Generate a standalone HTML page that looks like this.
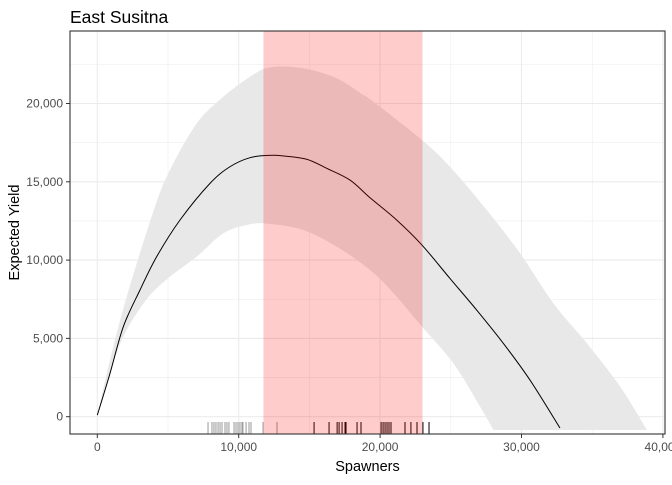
<!DOCTYPE html>
<html><head><meta charset="utf-8"><style>
body{margin:0;background:#fff;font-family:"Liberation Sans",Arial,sans-serif}
svg text{font-family:"Liberation Sans",Arial,sans-serif}
</style></head><body>
<svg id="c" width="672" height="480" xmlns="http://www.w3.org/2000/svg"></svg>
<script>
const xTicks=[0,10000,20000,30000,40000];
const xTickLabels=["0","10,000","20,000","30,000","40,000"];
const yTicks=[0,5000,10000,15000,20000];
const yTickLabels=["0","5,000","10,000","15,000","20,000"];
const curveS=[0,900,1840,3020,4200,5850,7970,9380,10800,12210,13180,14810,16220,17870,19290,21170,22960,24940,26830,28710,30600,32720];
const curveY=[100,2770,5750,8090,10220,12560,14900,15960,16540,16690,16650,16440,15860,15110,13980,12560,10960,8830,6810,4690,2340,-720];
const upperS=[0,900,2080,4000,5140,7030,8910,10800,12210,14570,16930,18810,19290,22960,24940,27540,29900,32260,34620,36980,38870];
const upperY=[100,3620,7660,13200,15750,18730,20430,21710,22310,22250,21610,20540,20270,17670,15960,13200,10430,7240,4690,1920,-850];
const lowerS=[0,660,1840,3490,5020,7030,8910,10800,12210,14570,16930,19290,20950,22960,25180,27070,28010];
const lowerY=[100,2130,5110,7500,8850,10220,11710,12290,12310,11920,10860,9370,7880,5750,3410,640,-850];
const bandRange=[11750,23000];
const rugOld=[7830,8110,8250,8390,8540,8680,8820,9030,9170,9310,9670,9810,9950,10090,10230,10300,10520,10730,10870,11720,12710];
const rugNew=[15330,16390,16960,17100,17310,17520,17590,18370,18650,20070,20210,20350,20490,20630,20770,21760,22180,22610,23030,23460];

const NS="http://www.w3.org/2000/svg";
const svg=document.getElementById('c');
const L=70,R=665,T=31,B=434;
const x=v=>97.3+v*0.01414;
const y=v=>416.7-v*0.01566;
function mk(tag,attrs,parent){const e=document.createElementNS(NS,tag);for(const k in attrs)e.setAttribute(k,attrs[k]);(parent||svg).appendChild(e);return e;}
function smooth(xs,ys,start){
  const p=xs.map((s,i)=>[x(s),y(ys[i])]);
  let d=(start?'M':'L')+p[0][0]+','+p[0][1];
  for(let i=0;i<p.length-1;i++){
    const p0=p[Math.max(0,i-1)],p1=p[i],p2=p[i+1],p3=p[Math.min(p.length-1,i+2)];
    const c1=[p1[0]+(p2[0]-p0[0])/6,p1[1]+(p2[1]-p0[1])/6];
    const c2=[p2[0]-(p3[0]-p1[0])/6,p2[1]-(p3[1]-p1[1])/6];
    d+='C'+c1[0]+','+c1[1]+' '+c2[0]+','+c2[1]+' '+p2[0]+','+p2[1];
  }
  return d;
}

const defs=mk('defs',{});
const cp=mk('clipPath',{id:'pc'},defs);
mk('rect',{x:L,y:T,width:R-L,height:B-T},cp);

const bg=mk('rect',{x:L,y:T,width:R-L,height:B-T,fill:'#fff'});



const grid=mk('g',{'clip-path':'url(#pc)'});


for(let v=-2500;v<=25000;v+=2500){const maj=v%5000===0;mk('line',{x1:L,x2:R,y1:y(v),y2:y(v),stroke:'#ebebeb','stroke-width':maj?1.1:0.55},grid);}
for(let v=-5000;v<=45000;v+=5000){const maj=v%10000===0;mk('line',{y1:T,y2:B,x1:x(v),x2:x(v),stroke:'#ebebeb','stroke-width':maj?1.1:0.55},grid);}

const plot=mk('g',{'clip-path':'url(#pc)'});
const rlS=lowerS.slice().reverse(),rlY=lowerY.slice().reverse();
const rd=smooth(upperS,upperY,true)+smooth(rlS,rlY,false)+'Z';
const rib=mk('path',{d:rd,fill:'#e8e8e8'},plot);



const rug=mk('g',{},plot);


rugOld.forEach(s=>{const l=mk('line',{x1:x(s),x2:x(s),y1:422,y2:434,stroke:'#999','stroke-width':1},rug);});
rugNew.forEach(s=>{const l=mk('line',{x1:x(s),x2:x(s),y1:422,y2:434,stroke:'#000','stroke-width':1},rug);});

const line=mk('path',{d:smooth(curveS,curveY,true),fill:'none',stroke:'#000','stroke-width':1},plot);



const band=mk('rect',{x:x(bandRange[0]),y:T,width:x(bandRange[1])-x(bandRange[0]),height:B-T,fill:'#ff0000','fill-opacity':0.2},plot);



const border=mk('rect',{x:L,y:T,width:R-L,height:B-T,fill:'none',stroke:'#333','stroke-width':1.1});



xTicks.forEach((v,i)=>{
  mk('line',{x1:x(v),x2:x(v),y1:B,y2:B+4,stroke:'#333','stroke-width':1});
  const t=mk('text',{x:x(v),y:B+17,'text-anchor':'middle','font-size':12,fill:'#4d4d4d'});
  t.textContent=xTickLabels[i];
  
  
});
yTicks.forEach((v,i)=>{
  mk('line',{x1:L-4,x2:L,y1:y(v),y2:y(v),stroke:'#333','stroke-width':1});
  const t=mk('text',{x:L-7,y:y(v)+4,'text-anchor':'end','font-size':12,fill:'#4d4d4d'});
  t.textContent=yTickLabels[i];
  
  
});
const xt=mk('text',{x:(L+R)/2,y:471,'text-anchor':'middle','font-size':14.5,fill:'#000'});
xt.textContent='Spawners';


const yt=mk('text',{x:0,y:0,transform:'translate(19,'+((T+B)/2)+') rotate(-90)','text-anchor':'middle','font-size':14.5,fill:'#000'});
yt.textContent='Expected Yield';


const tt=mk('text',{x:L,y:23,'font-size':17.5,fill:'#000'});
tt.textContent='East Susitna';


</script>
</body></html>
